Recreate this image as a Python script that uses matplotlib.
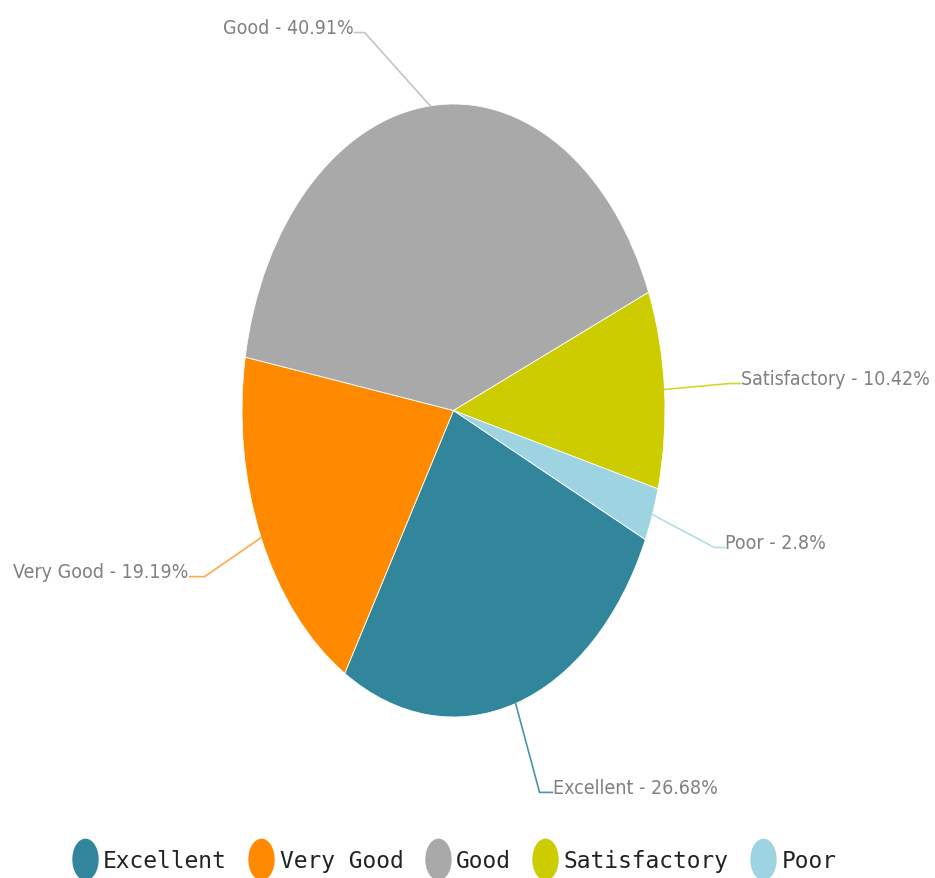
import matplotlib
matplotlib.use('Agg')
import numpy as np
import matplotlib.pyplot as plt
from matplotlib.path import Path
from matplotlib.transforms import Affine2D
from matplotlib.lines import Line2D

# Data
categories = ['Excellent', 'Very Good', 'Good', 'Satisfactory', 'Poor']
shares = [26.68, 19.19, 40.91, 10.42, 2.8]
label_text = ['26.68%', '19.19%', '40.91%', '10.42%', '2.8%']
colors = ['#31869b', '#ff8a00', '#a9a9a9', '#cccc00', '#9ed3e1']
line_colors = ['#4a95a8', '#ffa94d', '#c4c4c4', '#d6d62e', '#b3dde8']

# elbow / end of the leader lines, in pie radius units (layout only)
elbows = [(0.407, -1.246), (-1.177, -0.542), (-0.42, 1.233), (1.305, 0.088), (1.234, -0.447)]
ends = [(0.468, -1.246), (-1.248, -0.542), (-0.468, 1.233), (1.357, 0.088), (1.281, -0.447)]

fig = plt.figure(figsize=(9.35, 8.79), dpi=100)
# pie is stretched vertically in the reference
ax = fig.add_axes([242 / 935, (879 - 718) / 879, 423 / 935, 613 / 879])

wedges, _ = ax.pie(shares, colors=colors, startangle=-24.9, counterclock=False,
                   wedgeprops=dict(edgecolor='white', linewidth=0.6))
ax.set_aspect('auto')
ax.set_xlim(-1, 1)
ax.set_ylim(-1, 1)
ax.axis('off')

for i, w in enumerate(wedges):
    mid = np.deg2rad((w.theta1 + w.theta2) / 2)
    x0, y0 = np.cos(mid), np.sin(mid)
    ex, ey = elbows[i]
    tx, ty = ends[i]
    ax.plot([x0, ex, tx], [y0, ey, ty], color=line_colors[i], lw=1.2, clip_on=False)
    ha = 'left' if tx > 0 else 'right'
    ax.text(tx + (0.004 if ha == 'left' else -0.004), ty + 0.016,
            '%s - %s' % (categories[i], label_text[i]),
            ha=ha, va='center', fontsize=14, color='#808080',
            family='DejaVu Sans', fontstretch='condensed')

# legend with oval markers
oval = Path.unit_circle().transformed(Affine2D().scale(0.62, 1.0))
handles = [Line2D([], [], marker=oval, linestyle='none', markersize=29,
                  markerfacecolor=c, markeredgecolor=c) for c in colors]
fig.legend(handles, categories, loc='center', bbox_to_anchor=(456 / 935, 1 - 862 / 879),
           ncol=5, frameon=False, handlelength=0.8, handletextpad=0.4,
           columnspacing=1.1, prop={'family': 'DejaVu Sans Mono', 'size': 16.5},
           labelcolor='#222222')

fig.savefig('out.png', dpi=100)
